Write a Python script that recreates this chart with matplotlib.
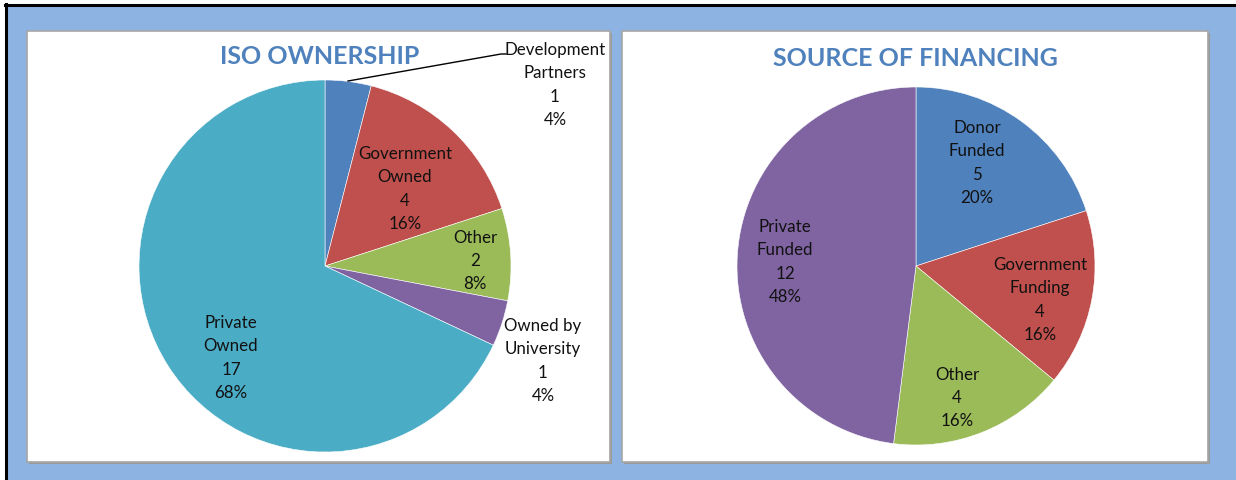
import matplotlib.pyplot as plt
from matplotlib.patches import Rectangle
from matplotlib.lines import Line2D

# data
own_labels = ['Development\nPartners', 'Government\nOwned', 'Other', 'Owned by\nUniversity', 'Private\nOwned']
own_values = [1, 4, 2, 1, 17]
own_colors = ['#4F81BD', '#C0504D', '#9BBB59', '#8064A2', '#4BACC6']

fin_labels = ['Donor\nFunded', 'Government\nFunding', 'Other', 'Private\nFunded']
fin_values = [5, 4, 4, 12]
fin_colors = ['#4F81BD', '#C0504D', '#9BBB59', '#8064A2']

W, H = 1236, 481
plt.rcParams['font.family'] = ['Lato', 'DejaVu Sans']
fig = plt.figure(figsize=(W / 100, H / 100), dpi=100)
fig.patch.set_facecolor('white')


def fx(x):
    return x / W


def fy(y):
    return 1 - y / H


def box(x0, y0, x1, y1):
    # figure rect from pixel box (top-down y)
    return [fx(x0), fy(y1), fx(x1) - fx(x0), fy(y0) - fy(y1)]


# background and frame
fig.add_artist(Rectangle((fx(5), 0), 1 - fx(5), fy(6), transform=fig.transFigure,
                         facecolor='#8DB3E2', edgecolor='none', zorder=0))
fig.add_artist(Line2D([fx(5), 1], [fy(5.5), fy(5.5)], transform=fig.transFigure, color='black', lw=2.2))
fig.add_artist(Line2D([fx(5.5), fx(5.5)], [0, fy(5)], transform=fig.transFigure, color='black', lw=2.2))

# white panels with grey border
for x0, x1 in [(27, 610), (622, 1208)]:
    fig.add_artist(Rectangle((fx(x0) + 0.0015, fy(463) - 0.004), fx(x1) - fx(x0), fy(32) - fy(463),
                             transform=fig.transFigure, facecolor='#9A9A9A', edgecolor='none', zorder=1))
    fig.add_artist(Rectangle((fx(x0), fy(463)), fx(x1) - fx(x0), fy(32) - fy(463),
                             transform=fig.transFigure, facecolor='white', edgecolor='#A6A6A6',
                             lw=1.2, zorder=2))


def draw_pie(rect, values, colors, labels, label_pos, total):
    ax = fig.add_axes(rect, zorder=3)
    ax.pie(values, colors=colors, startangle=90, counterclock=False,
           wedgeprops=dict(linewidth=0.4, edgecolor='white'))
    ax.set_xlim(-1, 1)
    ax.set_ylim(-1, 1)
    ax.set_aspect('equal')
    ax.axis('off')
    for lab, v, (x, y) in zip(labels, values, label_pos):
        txt = f'{lab}\n{v}\n{round(v / total * 100)}%'
        fig.text(fx(x), fy(y), txt, ha='center', va='center', fontsize=12.2,
                 color='#111111', linespacing=1.56, zorder=5)
    return ax


own_pos = [(555, 85), (405, 189), (475, 261), (543, 361), (231, 358)]
fin_pos = [(977, 163), (1040, 300), (957, 398), (785, 262)]

draw_pie(box(139, 81, 511, 453), own_values, own_colors, own_labels, own_pos, sum(own_values))
draw_pie(box(737, 88, 1095, 446), fin_values, fin_colors, fin_labels, fin_pos, sum(fin_values))

# leader line for the small slice
fig.add_artist(Line2D([fx(348), fx(501), fx(506)], [fy(82), fy(55), fy(55)],
                      transform=fig.transFigure, color='black', lw=1.0, zorder=6))

fig.text(fx(320), fy(56), 'ISO OWNERSHIP', ha='center', va='center', fontsize=18,
         fontweight='bold', color='#4F81BD', zorder=5)
fig.text(fx(915), fy(58), 'SOURCE OF FINANCING', ha='center', va='center', fontsize=18,
         fontweight='bold', color='#4F81BD', zorder=5)

fig.savefig('out.png', dpi=100)
